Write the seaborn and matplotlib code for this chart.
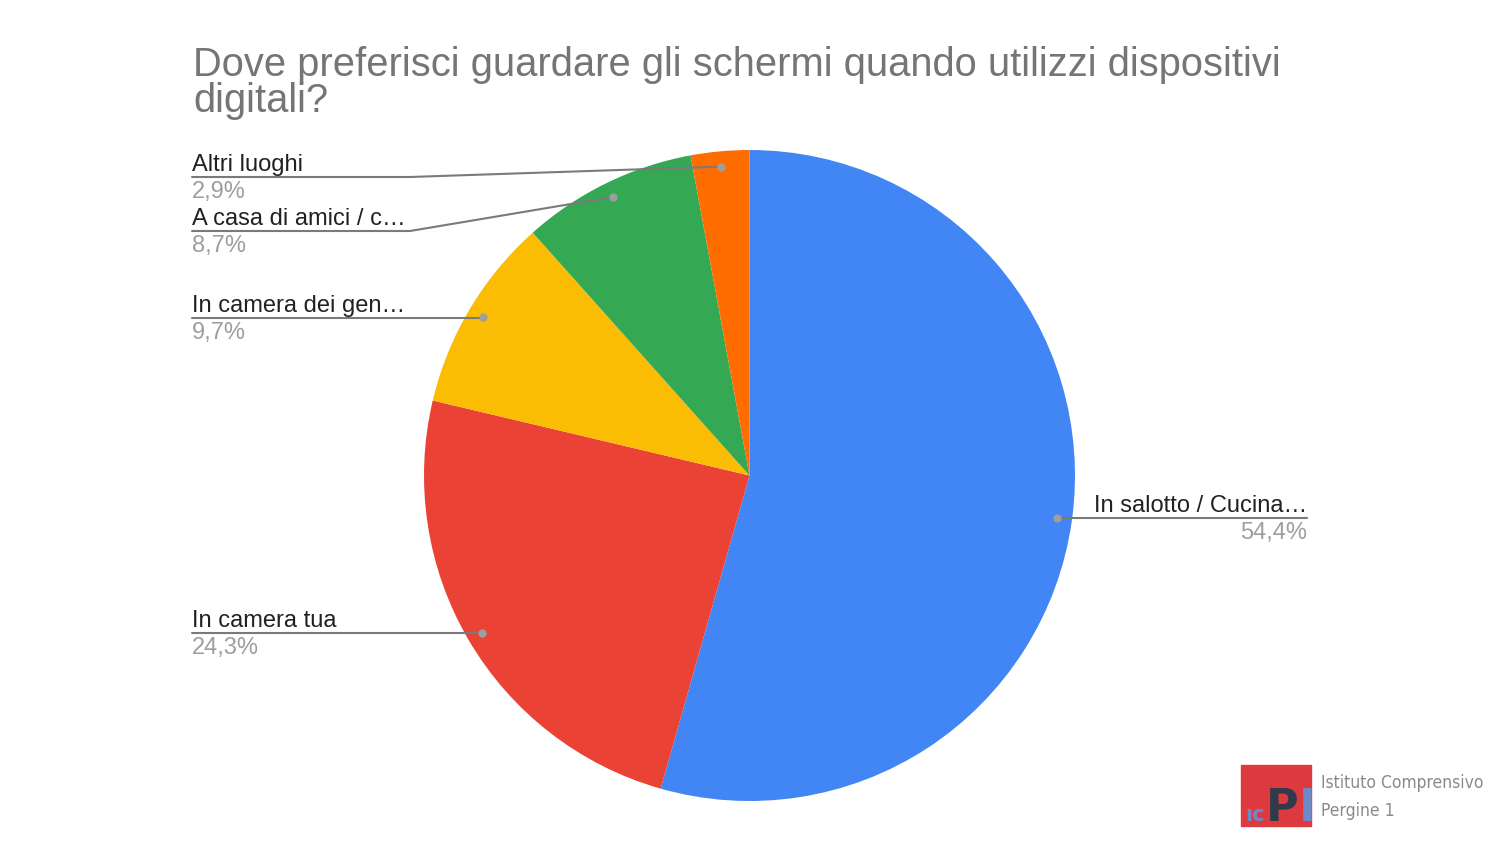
import numpy as np
import matplotlib
matplotlib.use('Agg')
import matplotlib.pyplot as plt
import seaborn as sns

# Data
labels = ['In salotto / Cucina…', 'In camera tua', 'In camera dei gen…',
          'A casa di amici / c…', 'Altri luoghi']
shares = [54.4, 24.3, 9.7, 8.7, 2.9]
pct_text = ['54,4%', '24,3%', '9,7%', '8,7%', '2,9%']
colors = ['#4285F4', '#EA4335', '#FBBC04', '#34A853', '#FF6D01']

title = 'Dove preferisci guardare gli schermi quando utilizzi dispositivi\ndigitali?'

sns.set_theme(style='white')
plt.rcParams['font.family'] = ['Liberation Sans', 'DejaVu Sans']

W, H = 1500, 844
fig = plt.figure(figsize=(W / 100, H / 100), dpi=100)
ax = fig.add_axes([0, 0, 1, 1])


def py(y):
    # pixel row (from top) -> data y
    return H - y


cx, cy, R = 749.5, py(475.5), 325.5
wedges, _ = ax.pie(shares, colors=colors, startangle=90, counterclock=False,
                   center=(cx, cy), radius=R, wedgeprops=dict(linewidth=0))
ax.set_xlim(0, W)
ax.set_ylim(0, H)
ax.set_aspect('auto')
ax.axis('off')

# label layout: (side, underline row, elbow x)
layout = [('right', 518, None), ('left', 633, None), ('left', 318, None),
          ('left', 231, 410), ('left', 177, 410)]

line_col = '#7a7a7a'
fs = 17
for w, lab, pct, (side, ly, elbow) in zip(wedges, labels, pct_text, layout):
    mid = np.deg2rad((w.theta1 + w.theta2) / 2)
    dx = cx + 0.953 * R * np.cos(mid)
    dy = cy + 0.953 * R * np.sin(mid)
    ly = py(ly)
    if side == 'left':
        x0 = 192
        if elbow is None:
            ax.plot([x0, dx], [ly, ly], color=line_col, lw=1.5, zorder=3)
        else:
            ax.plot([x0, elbow, dx], [ly, ly, dy], color=line_col, lw=1.5, zorder=3)
        ax.text(x0, ly + 6, lab, ha='left', va='baseline', fontsize=fs, color='#212121')
        ax.text(x0, ly - 21, pct, ha='left', va='baseline', fontsize=fs, color='#9e9e9e')
    else:
        x1 = 1307
        ax.plot([dx, x1], [ly, ly], color=line_col, lw=1.5, zorder=3)
        ax.text(x1, ly + 6, lab, ha='right', va='baseline', fontsize=fs, color='#212121')
        ax.text(x1, ly - 21, pct, ha='right', va='baseline', fontsize=fs, color='#9e9e9e')
    ax.scatter([dx], [dy], s=36, color='#9e9e9e', zorder=4, linewidths=0)

ax.text(193, py(112), title, ha='left', va='baseline', fontsize=28.7,
        color='#757575', linespacing=0.95)

# logo bottom right
ax.add_patch(plt.Rectangle((1241, py(826)), 70, 61, color='#dc3a3f', zorder=2))
ax.text(1245, py(821), 'ıc', fontsize=15, fontweight='bold', color='#7088c8',
        ha='left', va='baseline', family='DejaVu Sans', zorder=3)
ax.text(1266, py(821), 'P', fontsize=32, fontweight='bold', color='#2f3a4a',
        ha='left', va='baseline', family='DejaVu Sans', zorder=3)
ax.text(1299, py(821), 'I', fontsize=32, fontweight='bold', color='#7088c8',
        ha='left', va='baseline', family='DejaVu Sans', zorder=3)
ax.text(1321, py(788), 'Istituto Comprensivo', fontsize=12.5, color='#8a8a8a',
        ha='left', va='baseline', family='DejaVu Sans', fontstretch='condensed')
ax.text(1321, py(816), 'Pergine 1', fontsize=12.5, color='#8a8a8a',
        ha='left', va='baseline', family='DejaVu Sans', fontstretch='condensed')

fig.savefig('out.png', dpi=100, facecolor='white')
